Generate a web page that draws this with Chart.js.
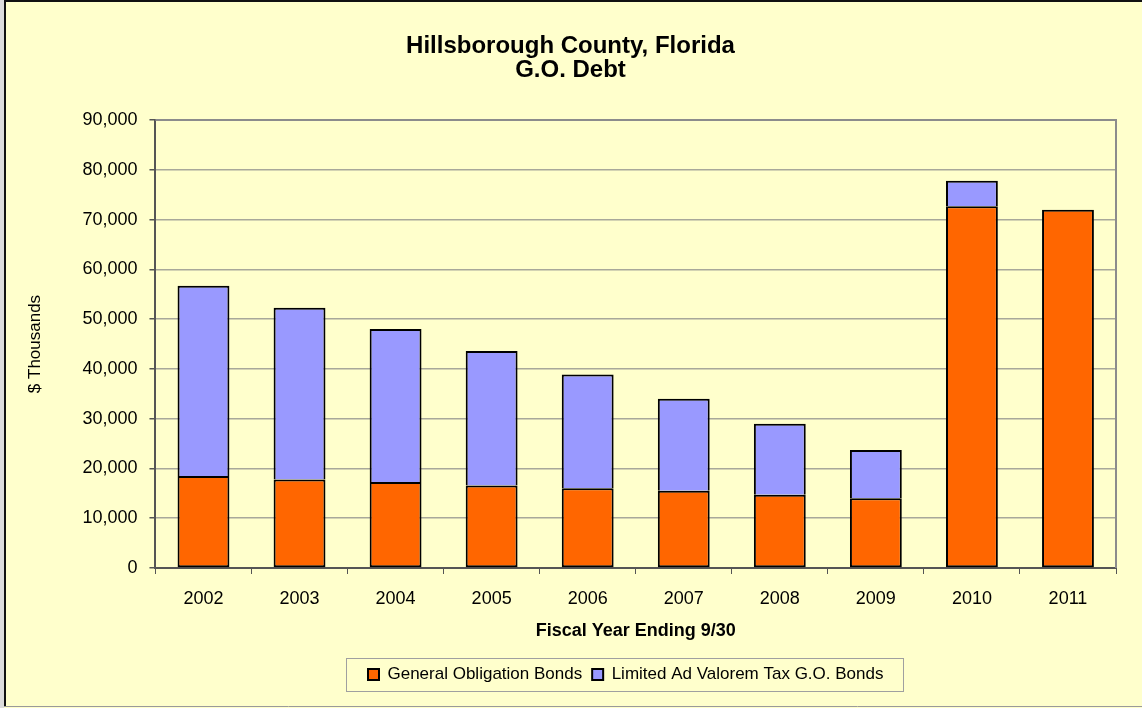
<!DOCTYPE html>
<html>
<head>
<meta charset="utf-8">
<title>Hillsborough County G.O. Debt</title>
<script src="https://cdn.jsdelivr.net/npm/chart.js@4/dist/chart.umd.min.js"></script>
<style>
  html, body { margin: 0; padding: 0; background: #FFFFCC; }
  #wrap { width: 1142px; height: 708px; position: relative; }
</style>
</head>
<body>
<div id="wrap"><canvas id="debtChart" width="1142" height="708"></canvas></div>
<script>
/* data ($ thousands) */
const years = ['2002','2003','2004','2005','2006','2007','2008','2009','2010','2011'];
const generalObligation = [18500, 17800, 17300, 16600, 16000, 15500, 14700, 14000, 72700, 72000];
const limitedAdValorem  = [38200, 34500, 30700, 27000, 22900, 18500, 14300, 9700, 5100, 0];
const yTicks = [0, 10000, 20000, 30000, 40000, 50000, 60000, 70000, 80000, 90000];

const FONT = "Arial, 'Liberation Sans', sans-serif";

// background, outer frame, plot-area frame and legend frame
const framePlugin = {
  id: 'frames',
  afterUpdate(chart) {
    // legend sits under the plot area, not under the whole canvas
    const lg = chart.legend;
    const a = chart.chartArea;
    const dx = (a.left + a.right) / 2 - (lg.left + lg.right) / 2 - 10;
    lg.left += dx;
    lg.right += dx;
    (lg.legendHitBoxes || []).forEach(b => { b.left += dx; });
  },
  beforeDraw(chart) {
    const c = chart.ctx;
    c.save();
    c.fillStyle = '#FFFFCC';
    c.fillRect(0, 0, chart.width, chart.height);
    c.fillStyle = '#dcdcdc';
    c.fillRect(0, 0, 4, chart.height);
    c.restore();
  },
  afterDraw(chart) {
    const c = chart.ctx;
    const a = chart.chartArea;
    c.save();
    // plot area top/right edges
    c.strokeStyle = '#8c8c8c';
    c.lineWidth = 2;
    c.beginPath();
    c.moveTo(a.left, a.top);
    c.lineTo(a.right, a.top);
    c.lineTo(a.right, a.bottom);
    c.stroke();

    // legend box
    const boxes = chart.legend.legendHitBoxes;
    if (boxes && boxes.length) {
      const left = Math.min(...boxes.map(b => b.left)) - 22;
      const right = Math.max(...boxes.map(b => b.left + b.width)) + 20;
      const top = boxes[0].top - 8;
      const h = boxes[0].height + 16;
      c.strokeStyle = '#a0a0a0';
      c.lineWidth = 1;
      c.strokeRect(Math.round(left) + 0.5, Math.round(top) + 0.5, Math.round(right - left), Math.round(h));
    }

    // outer chart frame (top, left dark; bottom grey)
    c.strokeStyle = '#111';
    c.lineWidth = 2;
    c.beginPath();
    c.moveTo(5, chart.height - 2);
    c.lineTo(5, 1);
    c.lineTo(chart.width, 1);
    c.stroke();
    c.strokeStyle = '#9a9a9a';
    c.lineWidth = 1;
    c.beginPath();
    c.moveTo(4, chart.height - 1.5);
    c.lineTo(chart.width, chart.height - 1.5);
    c.stroke();
    c.restore();
  },
};

new Chart(document.getElementById('debtChart'), {
  type: 'bar',
  data: {
    labels: years,
    datasets: [
      {
        label: 'General Obligation Bonds',
        data: generalObligation,
        backgroundColor: '#FF6600',
        borderColor: '#000',
        borderWidth: 2,
        borderSkipped: false,
      },
      {
        label: 'Limited Ad Valorem Tax G.O. Bonds',
        data: limitedAdValorem,
        backgroundColor: '#9999FF',
        borderColor: '#000',
        borderWidth: 2,
        borderSkipped: 'bottom',
      },
    ],
  },
  options: {
    responsive: false,
    animation: false,
    datasets: { bar: { barPercentage: 0.54, categoryPercentage: 1 } },
    layout: { padding: { left: 25, right: 26, top: 35, bottom: 15 } },
    plugins: {
      title: {
        display: true,
        text: ['Hillsborough County, Florida', 'G.O. Debt'],
        color: '#000',
        font: { family: FONT, size: 24, weight: 'bold', lineHeight: 0.98 },
        padding: { top: 0, bottom: 38 },
      },
      legend: {
        position: 'bottom',
        labels: {
          color: '#000',
          font: { family: FONT, size: 17 },
          boxWidth: 11,
          boxHeight: 11,
          padding: 10,
        },
      },
      tooltip: { enabled: false },
    },
    scales: {
      x: {
        stacked: true,
        grid: { offset: true, drawOnChartArea: false, tickLength: 6, tickColor: '#555', lineWidth: 1 },
        border: { color: '#555', width: 2 },
        ticks: { color: '#000', font: { family: FONT, size: 18 }, padding: 14 },
        title: {
          display: true,
          text: 'Fiscal Year Ending 9/30',
          color: '#000',
          font: { family: FONT, size: 18, weight: 'bold', lineHeight: 0.8 },
          padding: { top: 0, bottom: 18 },
        },
      },
      y: {
        stacked: true,
        min: 0,
        max: 90000,
        afterBuildTicks(axis) { axis.ticks = yTicks.map(v => ({ value: v })); },
        grid: { color: '#a8a89a', lineWidth: 1.5, tickLength: 6, tickColor: '#555' },
        border: { color: '#555', width: 2 },
        ticks: {
          color: '#000',
          font: { family: FONT, size: 18 },
          padding: 12,
          callback: v => v.toLocaleString('en-US'),
        },
        title: {
          display: true,
          text: '$ Thousands',
          color: '#000',
          font: { family: FONT, size: 17 },
          padding: { top: 0, bottom: 25 },
        },
      },
    },
  },
  plugins: [framePlugin],
});
</script>
</body>
</html>
